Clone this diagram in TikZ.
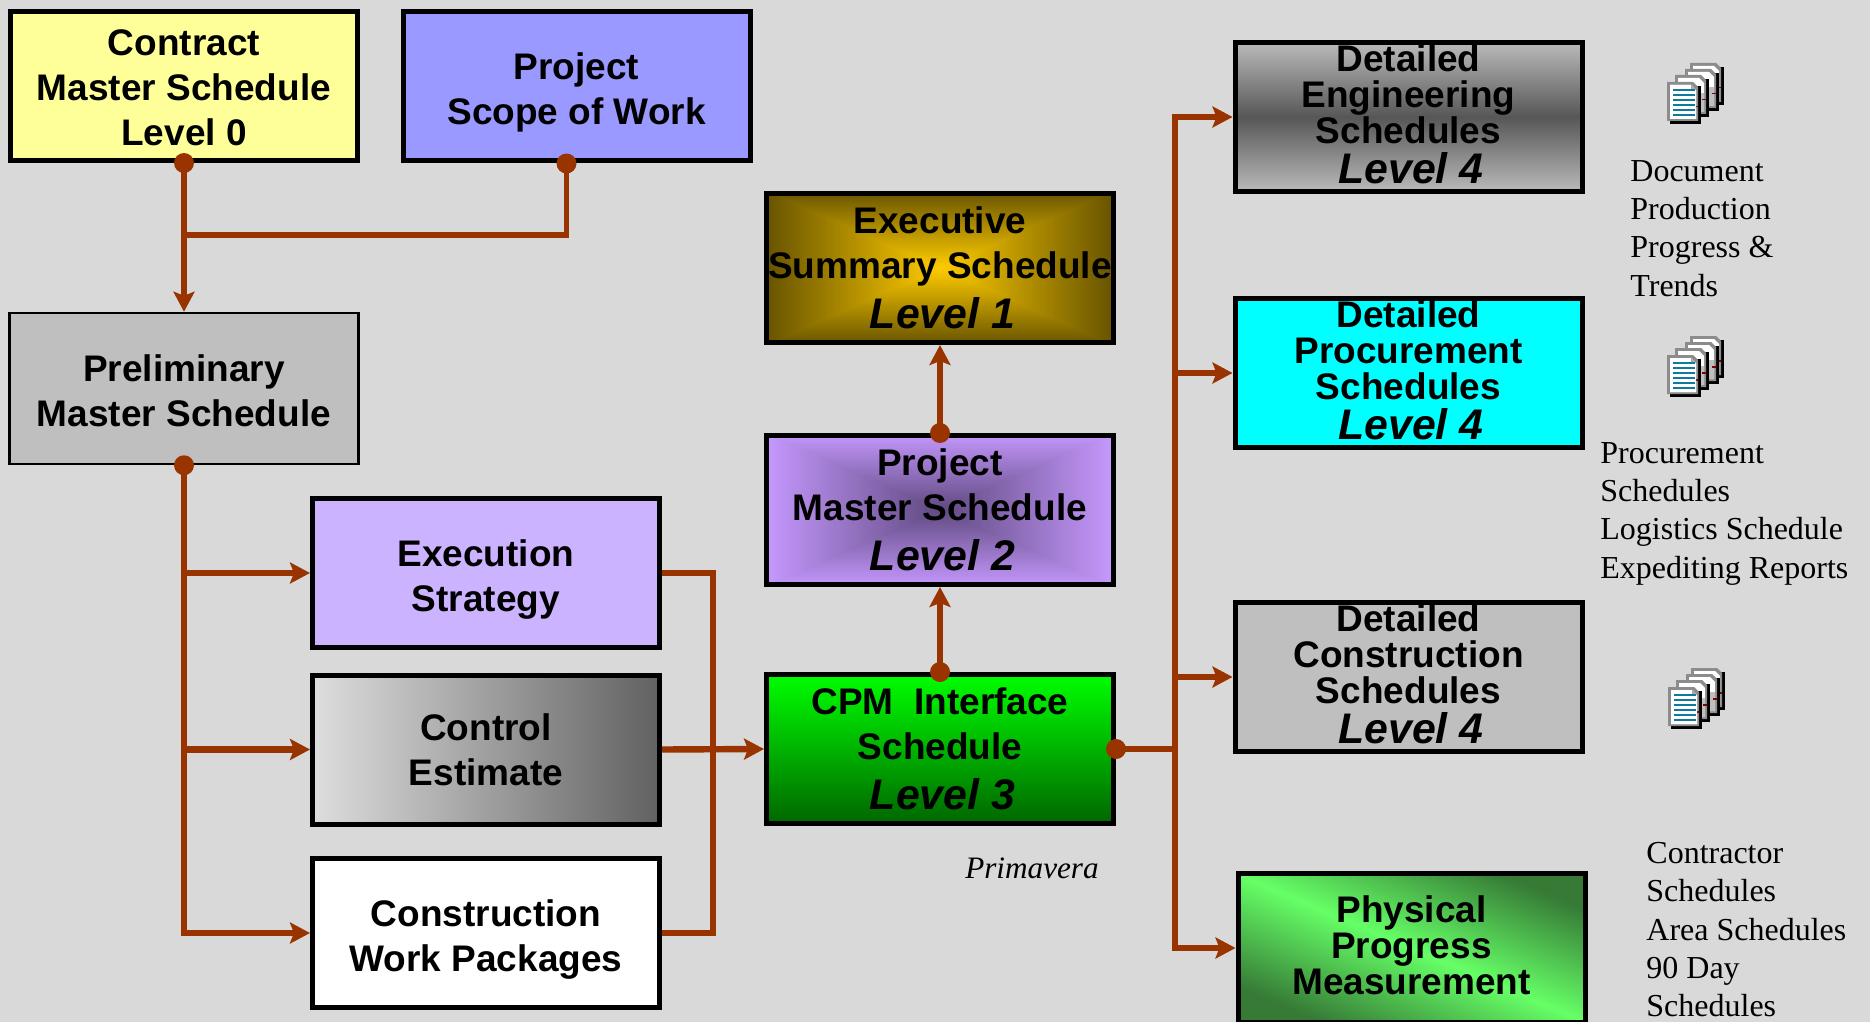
\documentclass[tikz,border=0pt]{standalone}
\usepackage{fontspec}
\setmainfont{Liberation Sans}
\newfontfamily\notefont{Liberation Serif}
\usetikzlibrary{arrows.meta,calc}
\definecolor{pagebg}{HTML}{D9D9D9}
\definecolor{flowred}{HTML}{993300}
\definecolor{doclines}{HTML}{0F7A9E}
\definecolor{goldmid}{HTML}{FFCC00}
\definecolor{goldrim}{HTML}{665200}
\definecolor{lilacmid}{HTML}{5F4A80}
\definecolor{lilacrim}{HTML}{C799FF}
\definecolor{progressrim}{HTML}{367A36}
\definecolor{progressmid}{HTML}{66FF66}
\def\lvl#1{\hspace*{2.5pt}{\fontsize{21.4}{21}\selectfont\itshape Level #1}}
\def\docicon(#1,#2){
	\begin{scope}[shift={(#1,#2)}]
		\foreach \dx/\dy in {23/0,18/6,8/12,0/19}{
			\fill[black] (\dx+3,\dy+4) rectangle (\dx+34,\dy+42);
			\fill[black!45] (\dx,\dy) -- (\dx+26,\dy) -- (\dx+31,\dy+5) -- (\dx+31,\dy+39) -- (\dx,\dy+39) -- cycle;
			\fill[white] (\dx+3,\dy+3) -- (\dx+24,\dy+3) -- (\dx+29,\dy+8) -- (\dx+29,\dy+37) -- (\dx+3,\dy+37) -- cycle;
			\fill[black!25] (\dx+22,\dy+18) rectangle (\dx+29,\dy+37);
			\fill[red!50!black] (\dx+27,\dy+24) rectangle +(4,1.5);
		}
		\fill[white] (3,22) -- (24,22) -- (29,27) -- (29,56) -- (3,56) -- cycle;
		\fill[black!35] (24,22) -- (24,27) -- (29,27) -- cycle;
		\foreach \ly in {26,31,36,41,46,51}{
			\fill[doclines] (6,\ly) rectangle (28,\ly+2);
		}
	\end{scope}
}
\tikzset{
	box/.style={draw=black, line width=2.5pt, minimum width=173.5pt, minimum height=74.5pt, inner sep=0pt, align=center, font=\fontsize{18.5}{22.5}\selectfont\bfseries},
	tight/.style={font=\fontsize{18.5}{18}\selectfont\bfseries},
	glow/.style 2 args={path picture={
		\foreach \p in {100,99,...,0}{
			\fill[#2!\p!#1] ($(path picture bounding box.center)+(-1.76*\p,-0.78*\p)$) rectangle ($(path picture bounding box.center)+(1.76*\p,0.78*\p)$);
		}
	}},
	flow/.style={draw=flowred, line width=3.2pt},
	arrowed/.style={flow, -{Stealth[length=10pt,width=10.5pt,inset=2pt]}},
	dot/.style={circle, fill=flowred, inner sep=0pt, minimum size=10pt},
	note/.style={anchor=north west, inner sep=0pt, align=left, font=\notefont\fontsize{16}{19.15}\selectfont}
}

\begin{document}
\begin{tikzpicture}[x=0.5pt,y=-0.5pt]
		%%%%% START %%%%%
		
		\fill[pagebg] (0,0) rectangle (1870,1022);
		\useasboundingbox (0,0) rectangle (1870,1022);
		
		% left column
		\node[box, text height=59.7pt, fill={rgb,255:red,255;green,255;blue,153}] (contract) at (184,86) {Contract\\Master Schedule\\Level 0};
		\node[box, text height=42pt, fill={rgb,255:red,153;green,153;blue,255}] (scope) at (576.5,86.5) {Project\\Scope of Work};
		\node[box, text height=38.4pt, line width=1.25pt, minimum width=174.5pt, minimum height=75.5pt, fill=black!25] (prelim) at (184,388.5) {Preliminary\\Master Schedule};
		\node[box, text height=42pt, fill={rgb,255:red,204;green,179;blue,255}] (strategy) at (486,573) {Execution\\Strategy};
		\node[box, left color=black!13, right color=black!62] (estimate) at (486,749.5) {Control\\Estimate};
		\node[box, text height=42pt, fill=white] (packages) at (486,933) {Construction\\Work Packages};
		
		% levels 1 to 3
		\node[box, glow={goldmid}{goldrim}] (summary) at (940,268) {Executive\\Summary Schedule\\[2.5pt]\lvl{1}};
		\node[box, glow={lilacmid}{lilacrim}] (master) at (940,510) {Project\\Master Schedule\\[2.5pt]\lvl{2}};
		\node[box, top color=green, bottom color=green!40!black] (cpm) at (940,749) {CPM\ \ Interface\\Schedule\\[2.5pt]\lvl{3}};
		
		% level 4
		\node[box, tight, text depth=3pt, top color=black!27, bottom color=black!27, middle color=black!66] (engineering) at (1408.5,117) {Detailed\\Engineering\\Schedules\\[1.8pt]\lvl{4}};
		\node[box, tight, text depth=3pt, fill={rgb,255:red,0;green,255;blue,255}] (procurement) at (1408.5,373) {Detailed\\Procurement\\Schedules\\[1.8pt]\lvl{4}};
		\node[box, tight, text depth=3pt, fill=black!25] (construction) at (1408.5,677) {Detailed\\Construction\\Schedules\\[1.8pt]\lvl{4}};
		\node[box, tight, text depth=3pt, top color=progressrim, bottom color=progressrim, middle color=progressmid, shading angle=-23] (physical) at (1411.5,948) {Physical\\Progress\\Measurement};
		
		% dots on the boxes
		\node[dot] (contractdot) at (contract.south) {};
		\node[dot] (scopedot) at ($(scope.south)+(-10,0)$) {};
		\node[dot] (prelimdot) at (prelim.south) {};
		\node[dot] (cpmtop) at (cpm.north) {};
		\node[dot] (mastertop) at (master.north) {};
		\node[dot] (cpmright) at (cpm.east) {};
		
		\coordinate (merge) at (184,235);
		\coordinate (collect) at (713,749);
		\coordinate (bus) at (1175,749);
		
		\draw[flow, line width=2.6pt] (scopedot.center) |- (merge);
		\draw[arrowed] (contractdot.center) -- (prelim.north);
		
		\draw[arrowed] (prelimdot.center) |- (strategy.west);
		\draw[arrowed] (prelimdot.center) |- (estimate.west);
		\draw[arrowed] (prelimdot.center) |- (packages.west);
		
		\draw[flow] (strategy.east) -| (collect);
		\draw[flow] (packages.east) -| (collect);
		\draw[arrowed] (estimate.east) -- (cpm.west);
		
		\draw[arrowed] (cpmtop.center) -- (master.south);
		\draw[arrowed] (mastertop.center) -- (summary.south);
		
		\draw[flow] (cpmright.center) -- (bus);
		\draw[arrowed] (bus) |- (engineering.west);
		\draw[arrowed] (bus) |- (procurement.west);
		\draw[arrowed] (bus) |- (construction.west);
		\draw[arrowed] (bus) |- (physical.west);
		
		% notes and icons on the right
		\docicon(1667,63);
		\docicon(1667,336);
		\docicon(1668,668);
		
		\node[note] (docnote) at (1630,160) {Document\\Production\\Progress \&\\Trends};
		\node[note] (procnote) at (1600,442) {Procurement\\Schedules\\Logistics Schedule\\Expediting Reports};
		\node[note] (areanote) at (1646,842) {Contractor\\Schedules\\Area Schedules\\90 Day\\Schedules};
		\node[font=\notefont\itshape\fontsize{15.6}{18}\selectfont] (primavera) at (1032,868) {Primavera};
		
		%%%%% END %%%%%
	\end{tikzpicture}
\end{document}
